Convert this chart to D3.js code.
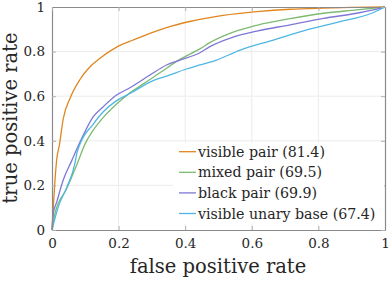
<!DOCTYPE html>
<html>
<head>
<meta charset="utf-8">
<script src="https://cdn.jsdelivr.net/npm/d3@7"></script>
<style>
  body { margin: 0; background: #fff; }
</style>
</head>
<body>
<svg id="chart" width="391" height="281"></svg>
<script>
// ROC curves
var seriesNames = ["visible pair (81.4)", "mixed pair (69.5)", "black pair (69.9)", "visible unary base (67.4)"];
var seriesColors = ["#e0861e", "#7dbb72", "#7e77d6", "#4fb6e3"];

var visibleFpr = [0, 0.004, 0.009, 0.014, 0.022, 0.034, 0.054, 0.084, 0.114, 0.144, 0.194, 0.244, 0.294, 0.344, 0.414, 0.514, 0.615, 0.715, 0.815, 0.9, 1];
var visibleTpr = [0, 0.105, 0.224, 0.314, 0.38, 0.5, 0.59, 0.675, 0.732, 0.77, 0.82, 0.852, 0.882, 0.908, 0.935, 0.962, 0.979, 0.99, 0.995, 0.998, 1];

var mixedFpr = [0, 0.009, 0.044, 0.074, 0.099, 0.124, 0.154, 0.194, 0.234, 0.264, 0.324, 0.384, 0.444, 0.474, 0.544, 0.615, 0.715, 0.815, 0.915, 1];
var mixedTpr = [0, 0.075, 0.185, 0.29, 0.385, 0.448, 0.505, 0.565, 0.615, 0.645, 0.705, 0.765, 0.812, 0.84, 0.887, 0.918, 0.948, 0.972, 0.987, 1];

var blackFpr = [0, 0.004, 0.014, 0.034, 0.059, 0.089, 0.124, 0.154, 0.194, 0.234, 0.294, 0.344, 0.384, 0.444, 0.474, 0.544, 0.615, 0.715, 0.815, 0.915, 0.975, 1];
var blackTpr = [0, 0.075, 0.125, 0.225, 0.31, 0.41, 0.508, 0.553, 0.605, 0.638, 0.695, 0.74, 0.762, 0.795, 0.822, 0.865, 0.892, 0.92, 0.949, 0.972, 0.99, 1];

var unaryFpr = [0, 0.019, 0.044, 0.069, 0.074, 0.084, 0.124, 0.154, 0.194, 0.234, 0.304, 0.344, 0.404, 0.444, 0.494, 0.565, 0.665, 0.765, 0.865, 0.96, 1];
var unaryTpr = [0, 0.105, 0.19, 0.30, 0.34, 0.385, 0.475, 0.53, 0.58, 0.612, 0.67, 0.69, 0.722, 0.74, 0.762, 0.807, 0.852, 0.897, 0.934, 0.972, 1];

var tickValues = [0, 0.2, 0.4, 0.6, 0.8, 1];
var tickLabels = ["0", "0.2", "0.4", "0.6", "0.8", "1"];

var series = [
  { fpr: visibleFpr, tpr: visibleTpr },
  { fpr: mixedFpr, tpr: mixedTpr },
  { fpr: blackFpr, tpr: blackTpr },
  { fpr: unaryFpr, tpr: unaryTpr }
];

(function () {
var serif = "DejaVu Serif";
var svg = d3.select("#chart");
var mLeft = 52, mRight = 385, mTop = 7, mBottom = 230;

var x = d3.scaleLinear().domain([0, 1]).range([mLeft, mRight]);
var y = d3.scaleLinear().domain([0, 1]).range([mBottom, mTop]);

// grid
var grid = svg.append("g").attr("class", "grid");
grid.selectAll(".gx").data(tickValues.slice(1, -1)).enter().append("line")
    .attr("x1", function(d) { return x(d); }).attr("x2", function(d) { return x(d); })
    .attr("y1", mTop).attr("y2", mBottom)
    .attr("stroke", "#ececec").attr("stroke-width", 1);
grid.selectAll(".gy").data(tickValues.slice(1, -1)).enter().append("line")
    .attr("y1", function(d) { return y(d); }).attr("y2", function(d) { return y(d); })
    .attr("x1", mLeft).attr("x2", mRight)
    .attr("stroke", "#ececec").attr("stroke-width", 1);

// curves
var line = d3.line()
    .x(function(d) { return x(d[0]); })
    .y(function(d) { return y(d[1]); })
    .curve(d3.curveMonotoneX);

series.forEach(function(s, i) {
  var pts = s.fpr.map(function(f, j) { return [f, s.tpr[j]]; });
  svg.append("path")
      .datum(pts)
      .attr("fill", "none")
      .attr("stroke", seriesColors[i])
      .attr("stroke-width", 1.3)
      .attr("d", line);
});

// box axes
var tickFmt = function(d) { return tickLabels[tickValues.indexOf(d)]; };

var xAxis = svg.append("g")
    .attr("transform", "translate(0," + mBottom + ")")
    .call(d3.axisBottom(x).tickValues(tickValues).tickFormat(tickFmt).tickSizeInner(-4).tickSizeOuter(0).tickPadding(8));
var yAxis = svg.append("g")
    .attr("transform", "translate(" + mLeft + ",0)")
    .call(d3.axisLeft(y).tickValues(tickValues).tickFormat(tickFmt).tickSizeInner(-4).tickSizeOuter(0).tickPadding(7));
var xTop = svg.append("g")
    .attr("transform", "translate(0," + mTop + ")")
    .call(d3.axisTop(x).tickValues(tickValues).tickFormat("").tickSizeInner(-4).tickSizeOuter(0));
var yRight = svg.append("g")
    .attr("transform", "translate(" + mRight + ",0)")
    .call(d3.axisRight(y).tickValues(tickValues).tickFormat("").tickSizeInner(-4).tickSizeOuter(0));

[xAxis, yAxis, xTop, yRight].forEach(function(g) {
  g.attr("font-family", serif).attr("font-size", 13.5);
  g.select(".domain").attr("stroke", "#8a8a8a").attr("stroke-width", 1.2);
  g.selectAll(".tick line").attr("stroke", "#b0b0b0");
  g.selectAll(".tick text").attr("fill", "#262626");
});

// legend
var legend = svg.append("g").attr("class", "legend")
    .attr("font-family", serif).attr("font-size", 14.2);
legend.append("rect")
    .attr("x", 173).attr("y", 143).attr("width", 211).attr("height", 81)
    .attr("fill", "#fff");

var rows = legend.selectAll(".row").data(seriesNames).enter().append("g")
    .attr("class", "row")
    .attr("transform", function(d, i) { return "translate(0," + (151.7 + i * 20.6) + ")"; });
rows.append("line")
    .attr("x1", 179).attr("x2", 196).attr("y1", 0).attr("y2", 0)
    .attr("stroke", function(d, i) { return seriesColors[i]; })
    .attr("stroke-width", 1.3);
rows.append("text")
    .attr("x", 198).attr("y", 5)
    .attr("fill", "#262626")
    .text(function(d) { return d; });

// axis titles
svg.append("text")
    .attr("x", 218).attr("y", 273)
    .attr("text-anchor", "middle")
    .attr("font-family", serif).attr("font-size", 19.5).attr("fill", "#262626")
    .text("false positive rate");
svg.append("text")
    .attr("transform", "translate(17,118) rotate(-90)")
    .attr("text-anchor", "middle")
    .attr("font-family", serif).attr("font-size", 19.5).attr("fill", "#262626")
    .text("true positive rate");
})();
</script>
</body>
</html>
